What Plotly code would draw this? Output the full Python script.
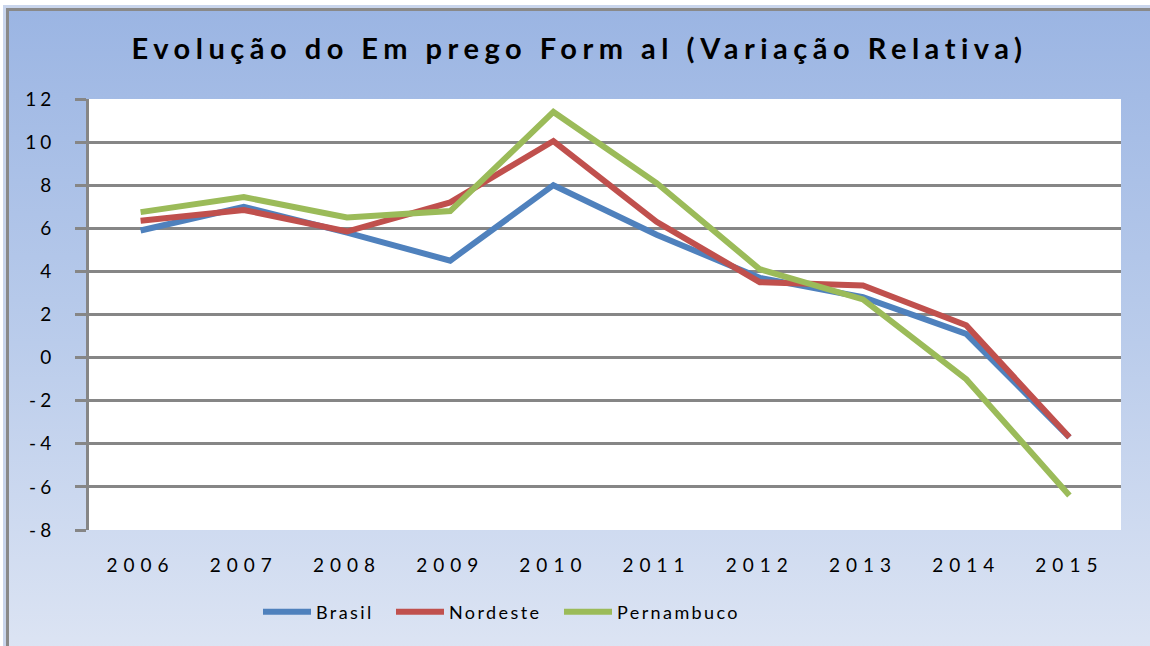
import base64
import plotly.graph_objects as go

years = ["2006", "2007", "2008", "2009", "2010", "2011", "2012", "2013", "2014", "2015"]
brasil = [5.9, 7.0, 5.8, 4.5, 8.0, 5.7, 3.7, 2.8, 1.1, -3.7]
nordeste = [6.35, 6.85, 5.85, 7.2, 10.05, 6.3, 3.5, 3.35, 1.5, -3.7]
pernambuco = [6.75, 7.45, 6.5, 6.8, 11.4, 8.1, 4.1, 2.7, -1.0, -6.4]
series_names = ["Brasil", "Nordeste", "Pernambuco"]
series_colors = ["#4F81BD", "#C0504D", "#9BBB59"]
y_ticks = [12, 10, 8, 6, 4, 2, 0, -2, -4, -6, -8]

W, H = 1150, 646
ML, MR, MT, MB = 89, 29, 99, 116
PW, PH = W - ML - MR, H - MT - MB


def px(x):
    return (x - ML) / PW


def py(y):
    return (H - MB - y) / PH


idx = list(range(len(years)))
fig = go.Figure()
legends = ["legend", "legend2", "legend3"]
for name, vals, col, lg in zip(series_names, [brasil, nordeste, pernambuco], series_colors, legends):
    fig.add_trace(go.Scatter(x=idx, y=vals, name=name, mode="lines",
                             line=dict(color=col, width=6), legend=lg))

svg = f'''<svg xmlns="http://www.w3.org/2000/svg" width="{W}" height="{H}" viewBox="0 0 {W} {H}">
<defs><linearGradient id="g" x1="0" y1="0" x2="0" y2="1">
<stop offset="0" stop-color="#9BB5E3"/><stop offset="0.5" stop-color="#BACCEB"/><stop offset="1" stop-color="#DFE6F4"/>
</linearGradient></defs>
<rect x="0" y="0" width="{W}" height="{H}" fill="#ffffff"/>
<rect x="4.5" y="6.5" width="{W+20}" height="{H+20}" fill="none" stroke="#C9D5EC" stroke-width="3"/>
<rect x="7.5" y="9.5" width="{W+20}" height="{H+20}" fill="url(#g)" stroke="#898989" stroke-width="3"/>
<rect x="{ML}" y="{MT}" width="{PW}" height="{PH}" fill="#ffffff"/>
</svg>'''
uri = "data:image/svg+xml;base64," + base64.b64encode(svg.encode()).decode()

FONT = "Lato, 'Open Sans', sans-serif"
grid = "#868686"

leg_common = dict(orientation="h", xanchor="left", yanchor="middle", bgcolor="rgba(0,0,0,0)",
                  font=dict(family=FONT, size=18, color="#000"), borderwidth=0,
                  itemwidth=48, entrywidth=160, entrywidthmode="pixels")

fig.update_layout(
    width=W, height=H,
    margin=dict(l=ML, r=MR, t=MT, b=MB),
    paper_bgcolor="#ffffff",
    plot_bgcolor="rgba(0,0,0,0)",
    images=[dict(source=uri, xref="paper", yref="paper", x=px(0), y=py(0),
                 sizex=W / PW, sizey=H / PH, xanchor="left", yanchor="top",
                 sizing="stretch", layer="below")],
    title=dict(text="<b>Evolução do Em prego Form al (Variação Relativa)</b>",
               x=px(609), xanchor="center", y=1 - 49 / H, yanchor="middle",
               font=dict(family=FONT, size=29, color="#000")),
    font=dict(family=FONT, color="#000"),
    xaxis=dict(range=[-0.5, 9.5], tickvals=idx, ticktext=years, ticks="",
               showgrid=False, zeroline=False, showline=False,
               tickfont=dict(family=FONT, size=19, color="#000"), ticklabelstandoff=22),
    xaxis2=dict(range=[-0.5, 9.5], overlaying="x", anchor="free", position=0.4,
                side="bottom", tickvals=[i + 0.5 for i in idx], ticks="outside",
                ticklen=6, tickwidth=3, tickcolor=grid, showticklabels=False,
                showgrid=False, zeroline=False, showline=False),
    yaxis=dict(range=[-8, 12], tickvals=y_ticks, ticktext=[str(v) for v in y_ticks],
               showgrid=True, gridcolor=grid, gridwidth=3,
               zeroline=True, zerolinecolor=grid, zerolinewidth=3,
               showline=True, linecolor=grid, linewidth=3,
               ticks="outside", ticklen=11, tickwidth=3, tickcolor=grid,
               tickfont=dict(family=FONT, size=19, color="#000"), ticklabelstandoff=16),
    showlegend=True,
    legend=dict(x=px(258), y=py(612), **leg_common),
    legend2=dict(x=px(391), y=py(612), **leg_common),
    legend3=dict(x=px(559), y=py(612), **leg_common),
)

css = """
document.documentElement.style.margin='0';
document.body.style.margin='0';
document.body.style.overflow='hidden';
var s=document.createElement('style');
s.innerHTML='.gtitle{letter-spacing:5.5px !important} .xtick text{letter-spacing:6px !important} .ytick text{letter-spacing:4px !important} .infolayer g[class^="legend"] text{letter-spacing:2.4px !important}';
document.head.appendChild(s);
var gd=document.getElementById('{plot_id}');
Plotly.redraw(gd);
"""
fig.write_html("out.html", post_script=css, config={"displayModeBar": False})
